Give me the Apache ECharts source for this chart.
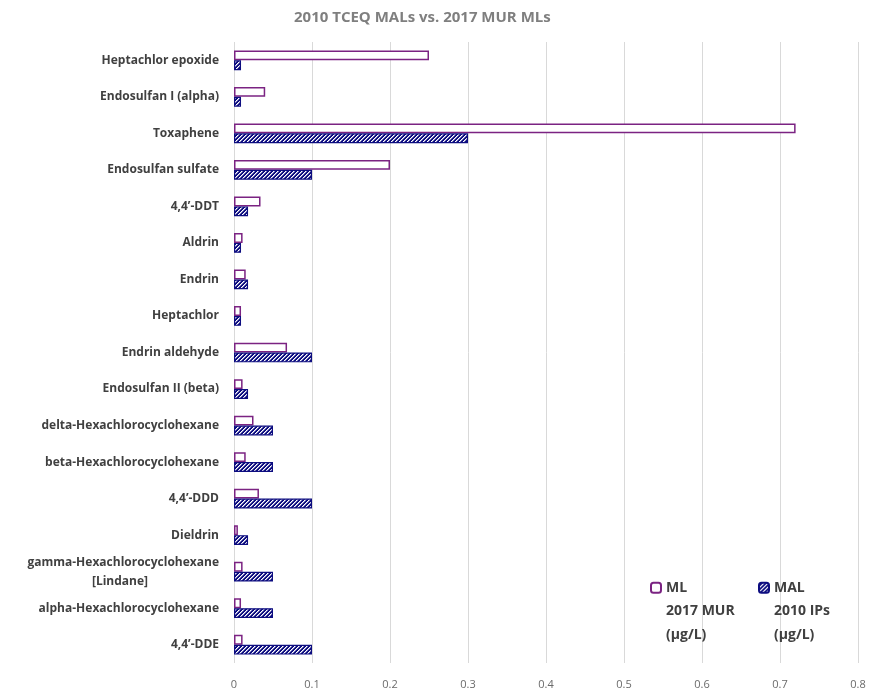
<!DOCTYPE html>
<html>
<head>
<meta charset="utf-8">
<script src="https://cdn.jsdelivr.net/npm/echarts@6/dist/echarts.min.js"></script>
<style>
  html, body { margin: 0; padding: 0; background: #fff; }
  #chart { width: 876px; height: 692px; }
</style>
</head>
<body>
<div id="chart"></div>
<script>
const categories = [
  'Heptachlor epoxide', 'Endosulfan I (alpha)', 'Toxaphene', 'Endosulfan sulfate',
  '4,4\u2019-DDT', 'Aldrin', 'Endrin', 'Heptachlor', 'Endrin aldehyde',
  'Endosulfan II (beta)', 'delta-Hexachlorocyclohexane', 'beta-Hexachlorocyclohexane',
  '4,4\u2019-DDD', 'Dieldrin', 'gamma-Hexachlorocyclohexane [Lindane]',
  'alpha-Hexachlorocyclohexane', '4,4\u2019-DDE'
]
const mlValues  = [0.25, 0.04, 0.72, 0.2, 0.034, 0.011, 0.015, 0.009, 0.068, 0.011, 0.025, 0.015, 0.032, 0.005, 0.011, 0.009, 0.011]
const malValues = [0.009, 0.009, 0.3, 0.1, 0.018, 0.009, 0.018, 0.009, 0.1, 0.018, 0.05, 0.05, 0.1, 0.018, 0.05, 0.05, 0.1]
const mlName  = 'ML\n2017 MUR\n(\u00b5g/L)'
const malName = 'MAL\n2010 IPs\n(\u00b5g/L)'

const purple = '#7b2382'
const navy   = '#0d0d80'

// diagonal hatch like excel's wide upward diagonal, drawn pixel by pixel
function hatch() {
  const c = document.createElement('canvas')
  c.width = 8
  c.height = 8
  const ctx = c.getContext('2d')
  for (let x = 0; x < 8; x++) {
    for (let y = 0; y < 8; y++) {
      const k = (x + y) % 4
      ctx.fillStyle = k === 0 ? '#ffffff' : k === 1 ? '#8f8fc4' : navy
      ctx.fillRect(x, y, 1, 1)
    }
  }
  return c
}

const chart = echarts.init(document.getElementById('chart'))
const font = '"Open Sans", "Noto Sans", sans-serif'

chart.setOption({
  backgroundColor: '#fff',
  animation: false,
  textStyle: { fontFamily: font },
  title: {
    text: '2010 TCEQ MALs vs. 2017 MUR MLs',
    left: 289,
    top: 5,
    textStyle: { color: '#7f7f7f', fontSize: 15, fontWeight: 'bold', fontFamily: font }
  },
  legend: {
    data: [mlName, malName],
    left: 645,
    top: 524,
    orient: 'horizontal',
    itemWidth: 10,
    itemHeight: 10,
    itemGap: 8,
    formatter: n => '\n\n' + n,
    textStyle: {
      color: '#404040',
      fontSize: 14,
      fontWeight: 'bold',
      lineHeight: 23.5,
      width: 84
    }
  },
  grid: { left: 234, right: 18, top: 42, bottom: 29, containLabel: false },
  xAxis: {
    type: 'value',
    min: 0,
    max: 0.8,
    interval: 0.1,
    axisLine: { show: false },
    axisTick: { show: false },
    splitLine: { show: true, lineStyle: { color: '#d9d9d9', width: 1 } },
    axisLabel: { color: '#6b6b6b', fontSize: 11, margin: 16 }
  },
  yAxis: {
    type: 'category',
    inverse: true,
    data: categories,
    axisLine: { show: false },
    axisTick: { show: false },
    axisLabel: {
      color: '#404040',
      fontSize: 12,
      fontWeight: 'bold',
      margin: 15,
      formatter: v => v.indexOf('[Lindane]') > -1
        ? '{b|gamma-Hexachlorocyclohexane}\n{b|[Lindane]}{pad|}'
        : v,
      rich: {
        b: { color: '#404040', fontSize: 12, fontWeight: 'bold', lineHeight: 19 },
        pad: { width: 71 }
      }
    }
  },
  series: [
    {
      name: mlName,
      type: 'bar',
      data: mlValues,
      barGap: '0%',
      barCategoryGap: '46%',
      itemStyle: { color: '#fff', borderColor: purple, borderWidth: 1.5 }
    },
    {
      name: malName,
      type: 'bar',
      data: malValues,
      barGap: '0%',
      barCategoryGap: '46%',
      itemStyle: { color: { image: hatch(), repeat: 'repeat' }, borderColor: navy, borderWidth: 1.2 }
    }
  ]
})
</script>
</body>
</html>
